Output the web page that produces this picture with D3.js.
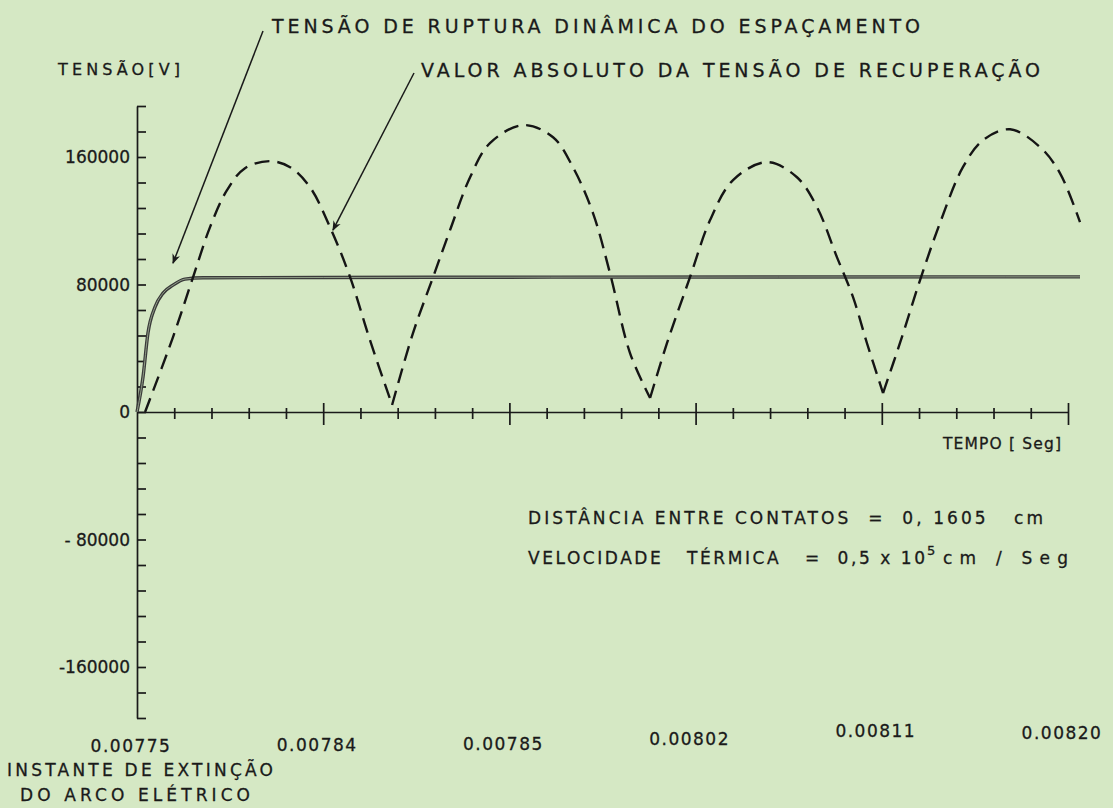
<!DOCTYPE html>
<html>
<head>
<meta charset="utf-8">
<script src="https://cdn.jsdelivr.net/npm/d3@7"></script>
<style>
  body { margin: 0; background: #d5e8c4; }
  svg { display: block; }
  text { font-family: "DejaVu Sans", "Liberation Sans", sans-serif; fill: #1a1a1a; stroke: #1a1a1a; stroke-width: 0.3; white-space: pre; }
</style>
</head>
<body>
<div class="canvas"></div>
<script>
// tensão de ruptura dinâmica do espaçamento (linha cheia)
const tempoRuptura = [0.0077500, 0.0077529, 0.0077553, 0.0077587, 0.0077626, 0.0077674,
  0.0077732, 0.0077819, 0.0078400, 0.0079500, 0.0080600, 0.0081700, 0.0082058];
const tensaoRuptura = [0, 21900, 49500, 65800, 74600, 79600,
  83400, 84200, 84400, 84600, 84700, 84800, 84800];

// valor absoluto da tensão de recuperação (tracejada)
const tempoRecuperacao = [
  0.0077539, 0.0077674, 0.0077771, 0.0077853, 0.0077935, 0.0078022, 0.0078143,
  0.0078240, 0.0078336, 0.0078433, 0.0078530, 0.0078626, 0.0078733,
  0.0078834, 0.0078931, 0.0079013, 0.0079110, 0.0079206, 0.0079366,
  0.0079511, 0.0079607, 0.0079704, 0.0079786, 0.0079883, 0.0079980,
  0.0080062, 0.0080173, 0.0080270, 0.0080381, 0.0080545,
  0.0080690, 0.0080787, 0.0080883, 0.0080961, 0.0081028, 0.0081106,
  0.0081188, 0.0081285, 0.0081381, 0.0081492, 0.0081589, 0.0081720,
  0.0081865, 0.0081961, 0.0082058];
const tensaoRecuperacao = [
  0, 47000, 84600, 116000, 139200, 153000, 157400,
  153600, 141100, 116000, 84600, 45100, 4400,
  49500, 84600, 114100, 147300, 168700, 180000,
  172400, 153600, 124800, 87200, 37000, 8800,
  43300, 84600, 120400, 145500, 156800,
  147300, 128500, 97200, 72100, 43300, 11900,
  43300, 82800, 118500, 153600, 170500, 177400,
  166200, 149900, 119100];

// eixos
const xTickValues = [0.00775, 0.00784, 0.00793, 0.00802, 0.00811, 0.00820];
const xTickLabels = ['0.00775', '0.00784', '0.00785', '0.00802', '0.00811', '0.00820'];
const yTickValues = [160000, 80000, 0, -80000, -160000];
const yTickLabels = ['160000', '80000', '0', '- 80000', '-160000'];

// pontas das setas das legendas [tempo, tensão]
const setaRuptura = [0.0077674, 93400];
const setaRecuperacao = [0.0078447, 114100];

const svg = d3.select('.canvas')
  .append('svg')
    .attr('width', 1113)
    .attr('height', 808);

svg.append('rect').attr('width', 1113).attr('height', 808).attr('fill', '#d5e8c4');

//margins and dimensions
const margin = {top: 106, right: 45, bottom: 90, left: 137};
const graphWidth = 1113 - margin.left - margin.right;
const graphHeight = 808 - margin.top - margin.bottom;

const graph = svg.append('g')
  .attr('transform', `translate(${margin.left}, ${margin.top})`);

const x = d3.scaleLinear()
  .domain([0.00775, 0.00820])
  .range([0, graphWidth]);
const y = d3.scaleLinear()
  .domain([-192000, 192000])
  .range([graphHeight, 0]);

// eixo vertical
const yAxis = d3.axisRight(y)
  .tickValues(d3.range(-192000, 192001, 16000))
  .tickSize(9)
  .tickSizeOuter(0)
  .tickFormat('');
const yAxisGroup = graph.append('g').call(yAxis);
yAxisGroup.selectAll('path, line').attr('stroke', '#1a1a1a').attr('stroke-width', 1.7);

graph.append('g')
  .selectAll('text')
  .data(yTickValues)
  .enter()
  .append('text')
    .attr('x', -7)
    .attr('y', d => y(d))
    .attr('dy', '0.36em')
    .attr('text-anchor', 'end')
    .attr('font-size', 17)
    .text((d, i) => yTickLabels[i]);

// eixo horizontal
const passo = (0.00820 - 0.00775) / 25;
const xAxis = d3.axisBottom(x)
  .tickValues(d3.range(26).map(i => 0.00775 + i * passo))
  .tickSizeOuter(0)
  .tickFormat('');
const xAxisGroup = graph.append('g')
  .attr('transform', `translate(0, ${y(0)})`)
  .call(xAxis);
xAxisGroup.selectAll('path, line').attr('stroke', '#1a1a1a').attr('stroke-width', 1.7);
xAxisGroup.selectAll('.tick line')
  .attr('y1', (d, i) => i % 5 === 0 ? -9 : -4)
  .attr('y2', (d, i) => i % 5 === 0 ? 13 : 7)
  .attr('display', (d, i) => i === 0 ? 'none' : null);

const xLabelBaseline = [752, 751, 750, 745, 737, 739];
svg.append('g')
  .selectAll('text')
  .data(xTickValues)
  .enter()
  .append('text')
    .attr('x', d => margin.left + x(d) - 6)
    .attr('y', (d, i) => xLabelBaseline[i])
    .attr('text-anchor', 'middle')
    .attr('font-size', 17)
    .attr('letter-spacing', 1.5)
    .text((d, i) => xTickLabels[i]);

// curvas
const ruptura = tempoRuptura.map((t, i) => [t, tensaoRuptura[i]]);
const recuperacao = tempoRecuperacao.map((t, i) => [t, tensaoRecuperacao[i]]);

// separa a tracejada nos mínimos (|v| tem bico)
const lobos = [];
let atual = [recuperacao[0]];
recuperacao.slice(1).forEach((p, i, arr) => {
  atual.push(p);
  const prox = arr[i + 1];
  if (prox && p[1] < atual[atual.length - 2][1] && p[1] < prox[1]) {
    lobos.push(atual);
    atual = [p];
  }
});
lobos.push(atual);

const linhaSuave = d3.line()
  .x(d => x(d[0]))
  .y(d => y(d[1]))
  .curve(d3.curveMonotoneX);
const linhaLobo = d3.line()
  .x(d => x(d[0]))
  .y(d => y(d[1]))
  .curve(d3.curveCatmullRom.alpha(0.5));

graph.append('path')
  .datum(ruptura)
  .attr('d', linhaSuave)
  .attr('fill', 'none')
  .attr('stroke', '#3a3a3a')
  .attr('stroke-width', 3.4);
graph.append('path')
  .datum(ruptura)
  .attr('d', linhaSuave)
  .attr('fill', 'none')
  .attr('stroke', '#9aa890')
  .attr('stroke-width', 0.9);

graph.selectAll('.lobo')
  .data(lobos)
  .enter()
  .append('path')
    .attr('class', 'lobo')
    .attr('d', linhaLobo)
    .attr('fill', 'none')
    .attr('stroke', '#151515')
    .attr('stroke-width', 2.4)
    .attr('stroke-dasharray', '15,8');

// setas das legendas
svg.append('defs').append('marker')
  .attr('id', 'seta')
  .attr('viewBox', '0 0 10 10')
  .attr('refX', 9).attr('refY', 5)
  .attr('markerWidth', 10).attr('markerHeight', 10)
  .attr('markerUnits', 'userSpaceOnUse')
  .attr('orient', 'auto')
  .append('path')
    .attr('d', 'M0,1 L10,5 L0,9 L3,5 Z')
    .attr('fill', '#1a1a1a');

const legendas = [
  {texto: 'TENSÃO DE RUPTURA DINÂMICA DO ESPAÇAMENTO', x: 272, y: 33, w: 648, inicio: [263, 31], ponta: setaRuptura},
  {texto: 'VALOR ABSOLUTO DA TENSÃO DE RECUPERAÇÃO', x: 421, y: 77, w: 619, inicio: [414, 73], ponta: setaRecuperacao}
];
legendas.forEach(l => {
  svg.append('text')
    .attr('x', l.x).attr('y', l.y)
    .attr('font-size', 19)
    .attr('textLength', l.w)
    .attr('lengthAdjust', 'spacing')
    .text(l.texto);
  svg.append('line')
    .attr('x1', l.inicio[0]).attr('y1', l.inicio[1])
    .attr('x2', margin.left + x(l.ponta[0]))
    .attr('y2', margin.top + y(l.ponta[1]))
    .attr('stroke', '#1a1a1a')
    .attr('stroke-width', 1.5)
    .attr('marker-end', 'url(#seta)');
});

// títulos dos eixos e notas
const textos = [
  {t: 'TENSÃO[V]', x: 58, y: 75, s: 16, w: 122},
  {t: 'TEMPO [ Seg]', x: 943, y: 449, s: 15.5, w: 118},
  {t: 'DISTÂNCIA ENTRE CONTATOS  =  0, 1605   cm', x: 528, y: 524, s: 17, w: 515},
  {t: 'VELOCIDADE   TÉRMICA   =  0,5 x 10', x: 528, y: 564, s: 17, w: 397},
  {t: '5', x: 927, y: 555, s: 13, w: 9},
  {t: 'cm / Seg', x: 943, y: 564, s: 17, w: 125},
  {t: 'INSTANTE DE EXTINÇÃO', x: 7, y: 776, s: 17, w: 266},
  {t: 'DO ARCO ELÉTRICO', x: 20, y: 801, s: 17, w: 230}
];
textos.forEach(d => {
  svg.append('text')
    .attr('x', d.x).attr('y', d.y)
    .attr('font-size', d.s)
    .attr('textLength', d.w)
    .attr('lengthAdjust', 'spacing')
    .text(d.t);
});
</script>
</body>
</html>
